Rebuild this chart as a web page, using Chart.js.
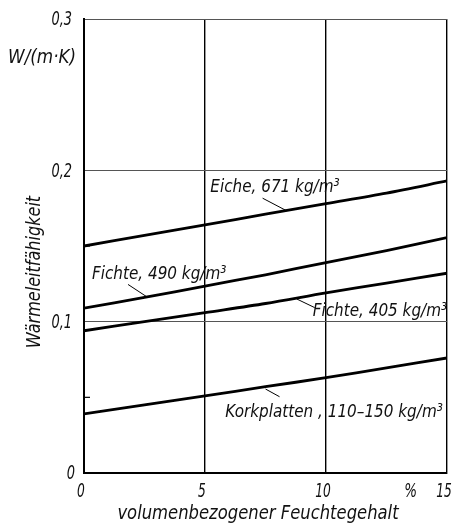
<!DOCTYPE html>
<html>
<head>
<meta charset="utf-8">
<script src="https://cdn.jsdelivr.net/npm/chart.js@4"></script>
<style>
  html, body { margin: 0; padding: 0; background: #fff; }
  #wrap { width: 452px; height: 526px; }
</style>
</head>
<body>
<div id="wrap"><canvas id="chart" width="452" height="526"></canvas></div>
<script>
const moisture = [0, 2.5, 5, 7.5, 10, 12.5, 15];

// Thermal conductivity in W/(m·K)
const eiche671 = [0.150, 0.157, 0.164, 0.171, 0.178, 0.185, 0.193];
const fichte490 = [0.109, 0.116, 0.1235, 0.131, 0.139, 0.147, 0.1555];
const fichte405 = [0.094, 0.100, 0.106, 0.112, 0.119, 0.1255, 0.132];
const korkplatten = [0.039, 0.045, 0.051, 0.057, 0.063, 0.0695, 0.076];

const curveLabels = [
    'Eiche, 671 kg/m³',
    'Fichte, 490 kg/m³',
    'Fichte, 405 kg/m³',
    'Korkplatten , 110–150 kg/m³'
];

const xTicks = [0, 5, 10, 15];
const yTicks = [0, 0.1, 0.2, 0.3];
const yMinorTicks = [0.05, 0.15];
const xUnit = '%';
const yUnit = 'W/(m·K)';
const xTitle = 'volumenbezogener Feuchtegehalt';
const yTitle = 'Wärmeleitfähigkeit';

const FONT = '"DejaVu Sans Condensed", "DejaVu Sans", sans-serif';
const INK = '#111';

// condensed italic text, like the drawing stencil lettering
const drawText = (ctx, str, x, y, opts = {}) => {
    const { size = 18, align = 'left', baseline = 'alphabetic', squeeze = 0.94, rot = 0 } = opts;
    ctx.save();
    ctx.translate(x, y);
    if (rot) ctx.rotate(rot);
    ctx.scale(squeeze, 1);
    ctx.font = `italic ${size}px ${FONT}`;
    ctx.textAlign = align;
    ctx.textBaseline = baseline;
    ctx.fillStyle = INK;
    ctx.fillText(str, 0, 0);
    ctx.restore();
};

const toPoints = (vals) => moisture.map((m, i) => ({ x: m, y: vals[i] }));

const curve = (label, vals) => ({
    label: label,
    data: toPoints(vals),
    borderColor: '#000',
    borderWidth: 2.8,
    pointRadius: 0,
    tension: 0.3,
    fill: false
});

// where the curve names sit (data coords) and their leader lines
const notes = [
    { text: curveLabels[0], at: [5.22, 0.1855], lead: [[7.38, 0.1816], [8.37, 0.1733]] },
    { text: curveLabels[1], at: [0.33, 0.1285], lead: [[1.82, 0.1246], [2.57, 0.1167]] },
    { text: curveLabels[2], at: [9.45, 0.1035], lead: [[8.79, 0.1150], [9.53, 0.1093]] },
    { text: curveLabels[3], at: [5.84, 0.0367], lead: [[7.50, 0.0555], [8.08, 0.0504]] }
];

const lettering = {
    id: 'lettering',
    afterDraw(chart) {
        const { ctx, scales: { x, y } } = chart;
        const left = x.getPixelForValue(0);

        // short inward ticks on the y axis
        ctx.save();
        ctx.strokeStyle = '#000';
        ctx.lineWidth = 1.2;
        yMinorTicks.forEach(v => {
            const py = y.getPixelForValue(v);
            ctx.beginPath();
            ctx.moveTo(left + 1, py);
            ctx.lineTo(left + 6, py);
            ctx.stroke();
        });
        ctx.restore();

        // y tick labels
        yTicks.forEach(v => {
            const py = y.getPixelForValue(v);
            const txt = v === 0 ? '0' : v.toFixed(1).replace('.', ',');
            drawText(ctx, txt, v === 0 ? 75 : 72, py + 1, { size: 20, align: 'right', baseline: 'middle', squeeze: 0.72 });
        });
        drawText(ctx, yUnit, 76, 63, { size: 19, align: 'right', squeeze: 0.98 });

        // x tick labels
        xTicks.forEach(v => {
            const px = x.getPixelForValue(v);
            drawText(ctx, String(v), px - 3, 497, { size: 20, align: 'center', squeeze: 0.68 });
        });
        drawText(ctx, xUnit, x.getPixelForValue(13.5), 497, { size: 20, align: 'center', squeeze: 0.75 });

        // axis titles
        drawText(ctx, xTitle, 258, 519, { size: 19, align: 'center', squeeze: 0.96 });
        drawText(ctx, yTitle, 40, 272, { size: 19, align: 'center', rot: -Math.PI / 2, squeeze: 0.94 });

        // curve names with leader lines
        notes.forEach(n => {
            drawText(ctx, n.text, x.getPixelForValue(n.at[0]), y.getPixelForValue(n.at[1]), { size: 18 });
            ctx.save();
            ctx.strokeStyle = '#000';
            ctx.lineWidth = 1;
            ctx.beginPath();
            ctx.moveTo(x.getPixelForValue(n.lead[0][0]), y.getPixelForValue(n.lead[0][1]));
            ctx.lineTo(x.getPixelForValue(n.lead[1][0]), y.getPixelForValue(n.lead[1][1]));
            ctx.stroke();
            ctx.restore();
        });
    }
};

new Chart(document.getElementById('chart'), {
    type: 'line',
    data: {
        datasets: [
            curve(curveLabels[0], eiche671),
            curve(curveLabels[1], fichte490),
            curve(curveLabels[2], fichte405),
            curve(curveLabels[3], korkplatten)
        ]
    },
    options: {
        responsive: false,
        animation: false,
        layout: { padding: { left: 84, right: 5, top: 19, bottom: 53 } },
        plugins: {
            legend: { display: false },
            tooltip: { enabled: false }
        },
        scales: {
            x: {
                type: 'linear',
                min: 0,
                max: 15,
                ticks: { stepSize: 5, display: false },
                grid: {
                    drawTicks: false,
                    color: (c) => c.tick && c.tick.value === 0 ? 'rgba(0,0,0,0)' : '#000',
                    lineWidth: 1.4
                },
                border: { color: '#000', width: 2 }
            },
            y: {
                type: 'linear',
                min: 0,
                max: 0.3,
                ticks: { stepSize: 0.1, display: false },
                grid: {
                    drawTicks: false,
                    color: (c) => c.tick && c.tick.value === 0 ? 'rgba(0,0,0,0)' : '#555',
                    lineWidth: 1
                },
                border: { color: '#000', width: 2 }
            }
        }
    },
    plugins: [lettering]
});
</script>
</body>
</html>
